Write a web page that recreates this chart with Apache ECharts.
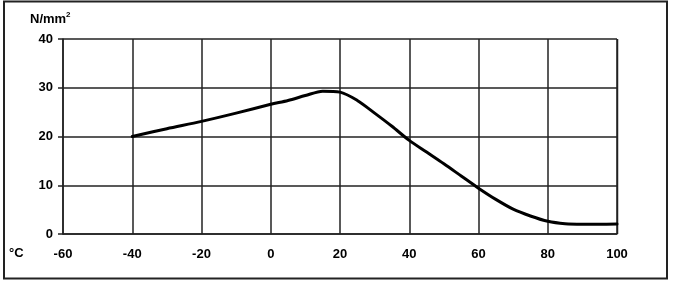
<!DOCTYPE html>
<html>
<head>
<meta charset="utf-8">
<script src="https://cdn.jsdelivr.net/npm/echarts@6/dist/echarts.min.js"></script>
<style>html,body{margin:0;padding:0;background:#fff}#c{width:676px;height:282px}</style>
</head>
<body>
<div id="c"></div>
<script>
const temps = [-40, -30, -20, -10, 0, 5, 10, 15, 20, 25, 30, 35, 40, 45, 50, 55, 60, 65, 70, 75, 80, 85, 90, 95, 100];
const strength = [20, 21.6, 23.1, 24.8, 26.6, 27.4, 28.4, 29.3, 29.1, 27.4, 24.8, 22.1, 19.2, 16.8, 14.4, 11.9, 9.4, 7.1, 5.1, 3.7, 2.6, 2.1, 2.0, 2.0, 2.05];
const xTicks = { min: -60, max: 100, step: 20 };
const yTicks = { min: 0, max: 40, step: 10 };
const yUnit = 'N/mm';
const xUnit = '°C';

const chart = echarts.init(document.getElementById('c'), null, { renderer: 'canvas' });
const labelFont = { fontFamily: 'Liberation Sans, Arial, sans-serif', fontWeight: 'bold', fontSize: 13, color: '#000' };
chart.setOption({
  animation: false,
  backgroundColor: '#fff',
  grid: { left: 63, right: 59, top: 39, bottom: 48, show: false },
  xAxis: {
    type: 'value', min: xTicks.min, max: xTicks.max, interval: xTicks.step,
    axisLine: { show: true, onZero: false, lineStyle: { color: '#222', width: 1.5 } },
    axisTick: { show: false },
    axisLabel: Object.assign({ margin: 14 }, labelFont),
    splitLine: { show: true, lineStyle: { color: '#222', width: 1.5 } }
  },
  yAxis: {
    type: 'value', min: yTicks.min, max: yTicks.max, interval: yTicks.step,
    axisLine: { show: true, onZero: false, lineStyle: { color: '#222', width: 1.5 } },
    axisTick: { show: true, length: 5, lineStyle: { color: '#222', width: 1.5 } },
    axisLabel: Object.assign({ margin: 10 }, labelFont),
    splitLine: { show: true, lineStyle: { color: '#222', width: 1.5 } }
  },
  series: [{
    type: 'line',
    data: temps.map((t, i) => [t, strength[i]]),
    smooth: 0.3,
    symbol: 'none',
    lineStyle: { color: '#000', width: 3, cap: 'round', join: 'round' },
    z: 5
  }],
  graphic: [
    { type: 'rect', shape: { x: 4, y: 1.5, width: 663, height: 277 }, style: { fill: null, stroke: '#222', lineWidth: 2 } },
    { type: 'line', shape: { x1: 617.5, y1: 39, x2: 617.5, y2: 234 }, style: { stroke: '#222', lineWidth: 1.5 } },
    { type: 'text', left: 30, top: 11, style: {
        text: '{a|' + yUnit + '}{b|2}',
        rich: {
          a: { fontFamily: 'Liberation Sans, Arial, sans-serif', fontWeight: 'bold', fontSize: 13, fill: '#000', verticalAlign: 'bottom' },
          b: { fontFamily: 'Liberation Sans, Arial, sans-serif', fontWeight: 'bold', fontSize: 8, fill: '#000', padding: [0, 0, 7, 0], verticalAlign: 'bottom' }
        }
    } },
    { type: 'text', left: 9, top: 247, style: { text: xUnit, fontFamily: 'Liberation Sans, Arial, sans-serif', fontWeight: 'bold', fontSize: 13, fill: '#000' } }
  ]
});
</script>
</body>
</html>
